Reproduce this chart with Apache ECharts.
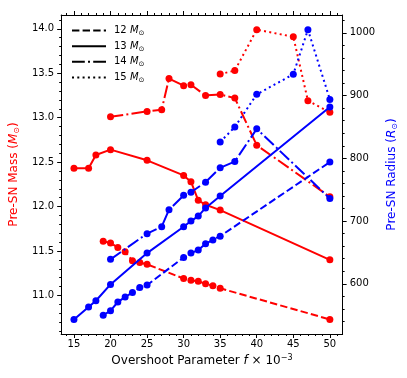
<!DOCTYPE html>
<html>
<head>
<meta charset="utf-8">
<script src="https://cdn.jsdelivr.net/npm/echarts@6/dist/echarts.min.js"></script>
<style>
html, body { margin: 0; padding: 0; background: #fff; }
#chart { width: 407px; height: 378px; }
</style>
</head>
<body>
<div id="chart"></div>
<script>
// overshoot parameter f (x 10^-3) per model, pre-SN mass (Msun) and radius (Rsun)
var f12 = [19, 20, 21, 22, 23, 24, 25, 30, 31, 32, 33, 34, 35, 50];
var mass12 = [11.61, 11.59, 11.54, 11.49, 11.39, 11.37, 11.35, 11.19, 11.17, 11.16, 11.13, 11.11, 11.08, 10.73];
var radius12 = [550, 557, 571, 579, 586, 594, 598, 642, 649, 654, 664, 670, 676, 794];

var f13 = [15, 17, 18, 20, 25, 30, 31, 32, 33, 35, 50];
var mass13 = [12.43, 12.43, 12.58, 12.64, 12.52, 12.35, 12.28, 12.07, 12.02, 11.96, 11.40];
var radius13 = [543, 563, 573, 599, 649, 691, 700, 708, 721, 740, 882];

var f14 = [20, 25, 27, 28, 30, 31, 33, 35, 37, 40, 50];
var mass14 = [13.01, 13.07, 13.09, 13.44, 13.36, 13.37, 13.25, 13.26, 13.22, 12.69, 12.11];
var radius14 = [639, 680, 691, 718, 741, 746, 762, 785, 795, 847, 736];

var f15 = [35, 37, 40, 45, 47, 50];
var mass15 = [13.49, 13.53, 13.99, 13.91, 13.19, 13.06];
var radius15 = [826, 850, 902, 934, 1005, 894];

var modelNames = ['12', '13', '14', '15'];

// tick values
var xMajor = [15, 20, 25, 30, 35, 40, 45, 50];
var xMinor = [14, 15, 16, 17, 18, 19, 20, 21, 22, 23, 24, 25, 26, 27, 28, 29, 30, 31, 32, 33,
    34, 35, 36, 37, 38, 39, 40, 41, 42, 43, 44, 45, 46, 47, 48, 49, 50, 51];
var massMajor = [11.0, 11.5, 12.0, 12.5, 13.0, 13.5, 14.0];
var massMinor = [10.6, 10.7, 10.8, 10.9, 11.0, 11.1, 11.2, 11.3, 11.4, 11.5, 11.6, 11.7, 11.8, 11.9,
    12.0, 12.1, 12.2, 12.3, 12.4, 12.5, 12.6, 12.7, 12.8, 12.9, 13.0, 13.1, 13.2, 13.3, 13.4, 13.5,
    13.6, 13.7, 13.8, 13.9, 14.0, 14.1];
var radiusMajor = [600, 700, 800, 900, 1000];
var radiusMinor = [540, 560, 580, 600, 620, 640, 660, 680, 700, 720, 740, 760, 780, 800, 820,
    840, 860, 880, 900, 920, 940, 960, 980, 1000, 1020];

var FONT = 'DejaVu Sans';
var dashes = [[7.4, 3.2], 'solid', [12.8, 3.2, 2, 3.2], [2, 3.3]];

function pairs(xs, ys) {
    var out = [];
    for (var i = 0; i < xs.length; i++) {
        out.push([xs[i], ys[i]]);
    }
    return out;
}

function xAxisOf(pos, values, len, withLine, withLabel) {
    return {
        type: 'value', position: pos, min: 13.25, max: 51.75,
        splitLine: { show: false },
        axisLine: { show: withLine, onZero: false, lineStyle: { color: '#000', width: 1 } },
        axisTick: { show: true, customValues: values, length: len, lineStyle: { color: '#000', width: 1 } },
        axisLabel: { show: withLabel, customValues: values, color: '#000', fontFamily: FONT, fontSize: 10, margin: 5 }
    };
}

function yAxisOf(pos, min, max, values, len, withLine, withLabel, fmt) {
    return {
        type: 'value', position: pos, min: min, max: max,
        splitLine: { show: false },
        axisLine: { show: withLine, onZero: false, lineStyle: { color: '#000', width: 1 } },
        axisTick: { show: true, customValues: values, length: len, lineStyle: { color: '#000', width: 1 } },
        axisLabel: { show: withLabel, customValues: values, color: '#000', fontFamily: FONT, fontSize: 10, margin: 7, formatter: fmt }
    };
}

function nameStyle(color) {
    return {
        color: color, fontFamily: FONT, fontSize: 12,
        rich: {
            i: { fontFamily: FONT, fontSize: 12, fontStyle: 'italic', color: color },
            s: { fontFamily: FONT, fontSize: 8, color: color, verticalAlign: 'bottom', padding: [6, 0, 0, 0] },
            sup: { fontFamily: FONT, fontSize: 8, color: color, verticalAlign: 'top', padding: [0, 0, 6, 0] }
        }
    };
}

var xAxes = [
    xAxisOf('bottom', xMajor, 4, true, true),
    xAxisOf('bottom', xMinor, 2, false, false),
    xAxisOf('top', xMajor, 4, true, false),
    xAxisOf('top', xMinor, 2, false, false)
];
xAxes[0].name = 'Overshoot Parameter {i|f} × 10{sup|−3}';
xAxes[0].nameLocation = 'middle';
xAxes[0].nameGap = 16;
xAxes[0].nameTextStyle = nameStyle('#000');

var yAxes = [
    yAxisOf('left', 10.566, 14.155, massMajor, 4, true, true, function (v) { return v.toFixed(1); }),
    yAxisOf('left', 10.566, 14.155, massMinor, 2, false, false),
    yAxisOf('right', 520, 1028.5, radiusMajor, 4, true, true, function (v) { return v; }),
    yAxisOf('right', 520, 1028.5, radiusMinor, 2, false, false)
];
yAxes[0].name = 'Pre-SN Mass ({i|M}{s|⊙})';
yAxes[0].nameLocation = 'middle';
yAxes[0].nameGap = 33;
yAxes[0].nameTextStyle = nameStyle('#ff0000');
yAxes[2].name = 'Pre-SN Radius ({i|R}{s|⊙})';
yAxes[2].nameLocation = 'middle';
yAxes[2].nameGap = 34;
yAxes[2].nameTextStyle = nameStyle('#0000ff');

var groups = [
    { f: f12, mass: mass12, radius: radius12 },
    { f: f13, mass: mass13, radius: radius13 },
    { f: f14, mass: mass14, radius: radius14 },
    { f: f15, mass: mass15, radius: radius15 }
];

var series = [];
// mass curves (red) first, radius curves (blue) drawn on top
groups.forEach(function (g, i) {
    series.push({
        type: 'line', xAxisIndex: 0, yAxisIndex: 0, data: pairs(g.f, g.mass),
        symbol: 'circle', symbolSize: 7, showSymbol: true, silent: true,
        itemStyle: { color: '#ff0000' },
        lineStyle: { color: '#ff0000', width: 2, type: dashes[i] },
        z: 2
    });
});
groups.forEach(function (g, i) {
    series.push({
        type: 'line', xAxisIndex: 0, yAxisIndex: 2, data: pairs(g.f, g.radius),
        symbol: 'circle', symbolSize: 7, showSymbol: true, silent: true,
        itemStyle: { color: '#0000ff' },
        lineStyle: { color: '#0000ff', width: 2, type: dashes[i] },
        z: 3
    });
});
// black entries only for the legend
modelNames.forEach(function (name, i) {
    series.push({
        type: 'line', name: name, xAxisIndex: 0, yAxisIndex: 0, data: [],
        symbol: 'none', symbolSize: 0, itemStyle: { color: '#000', opacity: 0 },
        lineStyle: { color: '#000', width: 2, type: dashes[i] }
    });
});

var chart = echarts.init(document.getElementById('chart'), null, { renderer: 'canvas' });
chart.setOption({
    animation: false,
    backgroundColor: '#fff',
    grid: { left: 59, right: 63, top: 15, bottom: 44 },
    legend: {
        data: modelNames,
        orient: 'vertical',
        left: 66, top: 20,
        itemWidth: 34, itemHeight: 14, itemGap: 4,
        selectedMode: false,
        itemStyle: { opacity: 0 },
        formatter: function (name) {
            return '{n|' + name + ' }{m|M}{s|⊙}';
        },
        textStyle: {
            padding: [0, 0, 0, 3],
            rich: {
                n: { fontFamily: FONT, fontSize: 10, color: '#000' },
                m: { fontFamily: FONT, fontSize: 10, fontStyle: 'italic', color: '#000' },
                s: { fontFamily: FONT, fontSize: 7, color: '#000', verticalAlign: 'bottom', padding: [5, 0, 0, 0] }
            }
        }
    },
    xAxis: xAxes,
    yAxis: yAxes,
    series: series
});
</script>
</body>
</html>
